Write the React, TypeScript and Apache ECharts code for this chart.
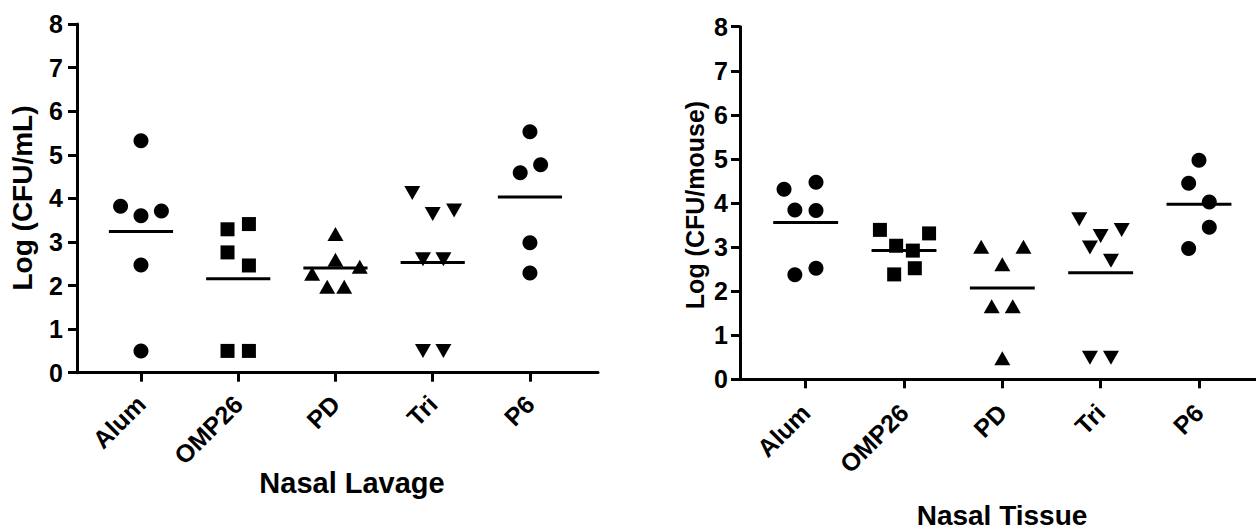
import React, { useEffect, useRef } from 'react';
import * as echarts from 'echarts';

const categories = ['Alum', 'OMP26', 'PD', 'Tri', 'P6'];
const yTickValues = [0, 1, 2, 3, 4, 5, 6, 7, 8];

// Nasal Lavage: Log (CFU/mL)
const lavageValues = [
  [5.32, 3.82, 3.6, 3.71, 2.47, 0.5],
  [3.29, 3.41, 2.76, 2.46, 0.5, 0.5],
  [3.18, 2.59, 2.27, 2.43, 1.97, 1.97],
  [4.12, 3.64, 3.72, 2.6, 2.6, 0.5, 0.5],
  [5.53, 4.77, 4.59, 2.98, 2.29],
];
const lavageJitter = [
  [0, -0.21, 0, 0.21, 0, 0],
  [-0.11, 0.11, -0.11, 0.11, -0.11, 0.11],
  [0, 0, -0.24, 0.25, -0.085, 0.09],
  [-0.21, 0, 0.22, -0.1, 0.11, -0.1, 0.11],
  [0, 0.11, -0.1, 0, 0],
];

// Nasal Tissue: Log (CFU/mouse)
const tissueValues = [
  [4.31, 4.47, 3.84, 3.83, 2.37, 2.52],
  [3.39, 3.31, 3.03, 2.92, 2.52, 2.38],
  [3.01, 3.01, 2.61, 1.66, 1.66, 0.48],
  [3.63, 3.39, 3.25, 2.99, 2.69, 0.49, 0.49],
  [4.97, 4.45, 4.02, 3.45, 2.97],
];
const tissueJitter = [
  [-0.22, 0.105, -0.11, 0.105, -0.11, 0.105],
  [-0.245, 0.255, -0.08, 0.09, 0.11, -0.1],
  [-0.215, 0.215, 0, -0.108, 0.106, 0],
  [-0.218, 0.214, 0, -0.109, 0.105, -0.109, 0.105],
  [0, -0.105, 0.105, 0.105, -0.105],
];

const symbols = ['circle', 'rect', 'triangle', 'triangle', 'circle'];
const symbolRotations = [0, 0, 0, 180, 0];
const symbolSizes: any[] = [15, 14, [16, 14], [16, 14], 15];

const FONT = '"Liberation Sans", Arial, Helvetica, sans-serif';
const BLACK = '#000';

function meanLineRender(params: any, api: any) {
  const x = api.value(0);
  const m = api.value(1);
  const p1 = api.coord([x - 0.33, m]);
  const p2 = api.coord([x + 0.33, m]);
  return {
    type: 'line',
    shape: { x1: p1[0], y1: p1[1], x2: p2[0], y2: p2[1] },
    style: { stroke: BLACK, lineWidth: 3 },
  };
}

function panelSeries(values: number[][], jitter: number[][], idx: number) {
  const series: any[] = values.map((vals, i) => ({
    type: 'scatter',
    xAxisIndex: idx,
    yAxisIndex: idx,
    symbol: symbols[i],
    symbolRotate: symbolRotations[i],
    symbolSize: symbolSizes[i],
    itemStyle: { color: BLACK, opacity: 1 },
    silent: true,
    z: 3,
    data: vals.map((v, j) => [i + jitter[i][j], v]),
  }));
  series.push({
    type: 'custom',
    xAxisIndex: idx,
    yAxisIndex: idx,
    silent: true,
    z: 2,
    renderItem: meanLineRender,
    data: values.map((vals, i) => [i, vals.reduce((a, b) => a + b, 0) / vals.length]),
  });
  return series;
}

const axisLineStyle = { color: BLACK, width: 3 };

function makeYAxis(idx: number, margin: number) {
  return {
    gridIndex: idx,
    type: 'value',
    min: yTickValues[0],
    max: yTickValues[yTickValues.length - 1],
    interval: 1,
    axisLine: { show: true, onZero: false, lineStyle: axisLineStyle },
    axisTick: { show: true, length: 9, lineStyle: { color: BLACK, width: 3 } },
    splitLine: { show: false },
    axisLabel: {
      color: BLACK,
      fontSize: 25,
      fontWeight: 'bold',
      fontFamily: FONT,
      margin,
    },
  };
}

function makeXAxis(idx: number, min: number, max: number, margin: number) {
  const ticks = categories.map((_, i) => i);
  return {
    gridIndex: idx,
    type: 'value',
    min,
    max,
    axisLine: { show: true, onZero: false, lineStyle: axisLineStyle },
    axisTick: {
      show: true,
      length: 9,
      customValues: ticks,
      lineStyle: { color: BLACK, width: 3 },
    },
    splitLine: { show: false },
    axisLabel: {
      customValues: ticks,
      rotate: 45,
      color: BLACK,
      fontSize: 25,
      fontWeight: 'bold',
      fontFamily: FONT,
      margin,
      formatter: (v: number) => categories[Math.round(v)] ?? '',
    },
  };
}

export default function App() {
  const ref = useRef<HTMLDivElement>(null);
  useEffect(() => {
    if (!ref.current) return;
    const chart = echarts.init(ref.current, null, { renderer: 'svg' });
    chart.setOption({
      animation: false,
      backgroundColor: '#fff',
      grid: [
        { left: 77, top: 24, width: 521, height: 348.7 },
        { left: 740, top: 26.7, width: 516, height: 352.6 },
      ],
      xAxis: [makeXAxis(0, -0.658, 4.7, 27), makeXAxis(1, -0.668, 4.58, 29)],
      yAxis: [makeYAxis(0, 14), makeYAxis(1, 12)],
      series: [
        ...panelSeries(lavageValues, lavageJitter, 0),
        ...panelSeries(tissueValues, tissueJitter, 1),
      ],
      graphic: [
        {
          type: 'text',
          x: 22,
          y: 198,
          rotation: Math.PI / 2,
          style: {
            text: 'Log (CFU/mL)',
            fill: BLACK,
            font: `bold 28px ${FONT}`,
            textAlign: 'center',
            textVerticalAlign: 'middle',
          },
        },
        {
          type: 'text',
          x: 695,
          y: 205,
          rotation: Math.PI / 2,
          style: {
            text: 'Log (CFU/mouse)',
            fill: BLACK,
            font: `bold 25px ${FONT}`,
            textAlign: 'center',
            textVerticalAlign: 'middle',
          },
        },
        {
          type: 'text',
          x: 352,
          y: 483,
          style: {
            text: 'Nasal Lavage',
            fill: BLACK,
            font: `bold 29px ${FONT}`,
            textAlign: 'center',
            textVerticalAlign: 'middle',
          },
        },
        {
          type: 'text',
          x: 1002,
          y: 515,
          style: {
            text: 'Nasal Tissue',
            fill: BLACK,
            font: `bold 28px ${FONT}`,
            textAlign: 'center',
            textVerticalAlign: 'middle',
          },
        },
      ],
    });
    return () => chart.dispose();
  }, []);
  return (
    <div
      ref={ref}
      style={{ position: 'absolute', left: 0, top: 0, width: 1256, height: 531 }}
    />
  );
}
